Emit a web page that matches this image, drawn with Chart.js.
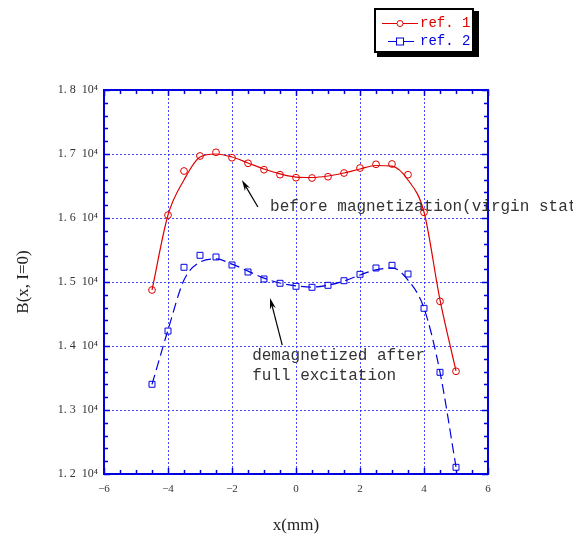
<!DOCTYPE html>
<html>
<head>
<meta charset="utf-8">
<script src="https://cdn.jsdelivr.net/npm/chart.js@4.4.0/dist/chart.umd.min.js"></script>
<style>
  html, body { margin: 0; padding: 0; background: #fff; }
</style>
</head>
<body>
<canvas id="chart" width="573" height="540"></canvas>
<script>
// x positions (mm)
const xPositions = [-4.5, -4, -3.5, -3, -2.5, -2, -1.5, -1, -0.5, 0, 0.5, 1, 1.5, 2, 2.5, 3, 3.5, 4, 4.5, 5];

// measured points
const ref1Values = [14875, 16045, 16734, 16969, 17027, 16942, 16855, 16755, 16677, 16630, 16625, 16645, 16703, 16781, 16839, 16844, 16677, 16089, 14698, 13605];
const ref2Values = [13402, 14234, 15230, 15417, 15391, 15266, 15156, 15047, 14980, 14933, 14917, 14948, 15020, 15120, 15219, 15261, 15125, 14589, 13589, 12105];

// smoothed curves as they appear in the picture
const ref1Curve = [14875, 16047, 16594, 16953, 17000, 16953, 16860, 16766, 16690, 16640, 16633, 16656, 16703, 16766, 16820, 16810, 16594, 16094, 14720, 13610];
const ref2Curve = [13400, 14250, 15030, 15310, 15360, 15280, 15170, 15060, 14985, 14940, 14920, 14950, 15015, 15110, 15190, 15220, 15030, 14590, 13590, 12110];

const xTicks = [-6, -4, -2, 0, 2, 4, 6];
const yTicks = [12000, 13000, 14000, 15000, 16000, 17000, 18000];

const legendLabels = ['ref. 1', 'ref. 2'];
const note1 = ['before magnetization(virgin state)'];
const note2 = ['demagnetized after', 'full excitation'];

const RED = '#e00000';
const BLUE = '#0000e0';

function toXY(ys) {
    return xPositions.map((x, i) => ({ x: x, y: ys[i] }));
}

function arrow(ctx, x1, y1, x2, y2) {
    // line from (x1,y1) to tip (x2,y2)
    const ang = Math.atan2(y2 - y1, x2 - x1);
    const len = 11, half = 3;
    ctx.save();
    ctx.strokeStyle = '#000';
    ctx.fillStyle = '#000';
    ctx.lineWidth = 1.2;
    ctx.beginPath();
    ctx.moveTo(x1, y1);
    ctx.lineTo(x2 - Math.cos(ang) * len * 0.6, y2 - Math.sin(ang) * len * 0.6);
    ctx.stroke();
    ctx.beginPath();
    ctx.moveTo(x2, y2);
    ctx.lineTo(x2 - Math.cos(ang) * len - Math.sin(ang) * half, y2 - Math.sin(ang) * len + Math.cos(ang) * half);
    ctx.lineTo(x2 - Math.cos(ang) * len * 0.7, y2 - Math.sin(ang) * len * 0.7);
    ctx.lineTo(x2 - Math.cos(ang) * len + Math.sin(ang) * half, y2 - Math.sin(ang) * len - Math.cos(ang) * half);
    ctx.closePath();
    ctx.fill();
    ctx.restore();
}

// frame, inward ticks on all sides, legend box and the notes
const extrasPlugin = {
    id: 'extras',
    afterDraw(chart) {
        const ctx = chart.ctx;
        const xs = chart.scales.x, ys = chart.scales.y;
        const { left, right, top, bottom } = chart.chartArea;

        ctx.save();
        ctx.strokeStyle = BLUE;
        ctx.lineWidth = 1.5;
        // x ticks every 0.5
        for (let v = -6; v <= 6.001; v += 0.5) {
            const px = Math.round(xs.getPixelForValue(v)) + 0.5;
            const major = Math.abs(v % 2) < 0.001;
            const l = major ? 6 : 4;
            ctx.beginPath();
            ctx.moveTo(px, bottom); ctx.lineTo(px, bottom - l);
            ctx.moveTo(px, top); ctx.lineTo(px, top + l);
            ctx.stroke();
        }
        // y ticks every 200
        for (let v = 12000; v <= 18000; v += 200) {
            const py = Math.round(ys.getPixelForValue(v)) + 0.5;
            const major = v % 1000 === 0;
            const l = major ? 6 : 4;
            ctx.beginPath();
            ctx.moveTo(left, py); ctx.lineTo(left + l, py);
            ctx.moveTo(right, py); ctx.lineTo(right - l, py);
            ctx.stroke();
        }
        ctx.lineWidth = 2;
        ctx.strokeRect(left, top, right - left, bottom - top);
        ctx.restore();

        // legend
        ctx.save();
        ctx.fillStyle = '#000';
        ctx.fillRect(377, 11, 102, 46);
        ctx.fillStyle = '#fff';
        ctx.fillRect(374, 8, 100, 45);
        ctx.strokeStyle = '#000';
        ctx.lineWidth = 2;
        ctx.strokeRect(375, 9, 98, 43);

        ctx.font = '14px "Liberation Mono", monospace';
        ctx.textBaseline = 'middle';
        // ref. 1
        ctx.strokeStyle = RED;
        ctx.lineWidth = 1;
        ctx.beginPath(); ctx.moveTo(382, 23.5); ctx.lineTo(418, 23.5); ctx.stroke();
        ctx.fillStyle = '#fff';
        ctx.beginPath(); ctx.arc(400, 23.5, 3, 0, Math.PI * 2); ctx.fill(); ctx.stroke();
        ctx.fillStyle = RED;
        ctx.fillText(legendLabels[0], 420, 23.5);
        // ref. 2
        ctx.strokeStyle = BLUE;
        ctx.setLineDash([10, 4]);
        ctx.beginPath(); ctx.moveTo(390, 41.5); ctx.lineTo(418, 41.5); ctx.stroke();
        ctx.setLineDash([]);
        ctx.beginPath(); ctx.moveTo(388, 41.5); ctx.lineTo(391, 41.5); ctx.stroke();
        ctx.fillStyle = '#fff';
        ctx.fillRect(396.5, 38, 7, 7);
        ctx.strokeRect(396.5, 38, 7, 7);
        ctx.fillStyle = BLUE;
        ctx.fillText(legendLabels[1], 420, 41.5);
        ctx.restore();

        // notes with arrows
        ctx.save();
        ctx.font = '16px "Liberation Mono", monospace';
        ctx.fillStyle = '#333';
        ctx.textBaseline = 'middle';
        ctx.fillText(note1[0], xs.getPixelForValue(-0.81), ys.getPixelForValue(16172));
        note2.forEach((t, i) => {
            ctx.fillText(t, xs.getPixelForValue(-1.37), ys.getPixelForValue(13844 - i * 312));
        });
        arrow(ctx, xs.getPixelForValue(-1.19), ys.getPixelForValue(16172),
                   xs.getPixelForValue(-1.69), ys.getPixelForValue(16594));
        arrow(ctx, xs.getPixelForValue(-0.43), ys.getPixelForValue(14014),
                   xs.getPixelForValue(-0.81), ys.getPixelForValue(14750));
        ctx.restore();
    }
};

const ctx = document.getElementById('chart').getContext('2d');

new Chart(ctx, {
    type: 'scatter',
    data: {
        datasets: [
            {
                label: 'ref. 1 curve',
                data: toXY(ref1Curve),
                showLine: true,
                borderColor: RED,
                borderWidth: 1.2,
                pointRadius: 0,
                cubicInterpolationMode: 'monotone'
            },
            {
                label: 'ref. 2 curve',
                data: toXY(ref2Curve),
                showLine: true,
                borderColor: BLUE,
                borderWidth: 1.2,
                borderDash: [10, 5],
                pointRadius: 0,
                cubicInterpolationMode: 'monotone'
            },
            {
                label: legendLabels[0],
                data: toXY(ref1Values),
                showLine: false,
                pointStyle: 'circle',
                pointRadius: 3.4,
                borderWidth: 1,
                borderColor: RED,
                backgroundColor: '#fff'
            },
            {
                label: legendLabels[1],
                data: toXY(ref2Values),
                showLine: false,
                pointStyle: 'rect',
                pointRadius: 4.2,
                borderWidth: 1,
                borderColor: BLUE,
                backgroundColor: '#fff'
            }
        ]
    },
    options: {
        responsive: false,
        animation: false,
        layout: { padding: { top: 90, right: 85, left: 0, bottom: 0 } },
        plugins: {
            legend: { display: false },
            tooltip: { enabled: false }
        },
        scales: {
            x: {
                type: 'linear',
                min: -6, max: 6,
                afterFit: s => { s.height = 66; },
                afterBuildTicks: s => { s.ticks = xTicks.map(v => ({ value: v })); },
                ticks: {
                    padding: 9,
                    color: '#333',
                    font: { family: '"Liberation Serif", serif', size: 11 },
                    callback: v => (v < 0 ? '\u2212' + Math.abs(v) : String(v))
                },
                grid: { color: 'rgba(40,40,255,0.85)', lineWidth: 1, drawTicks: false },
                border: { display: false, dash: [2, 2] },
                title: {
                    display: true,
                    text: 'x(mm)',
                    color: '#222',
                    font: { family: '"Liberation Serif", serif', size: 17 },
                    padding: { top: 0, bottom: 4 }
                }
            },
            y: {
                type: 'linear',
                min: 12000, max: 18000,
                afterFit: s => { s.width = 104; },
                afterBuildTicks: s => { s.ticks = yTicks.map(v => ({ value: v })); },
                ticks: {
                    padding: 6,
                    color: '#333',
                    font: { family: '"Liberation Serif", serif', size: 12 },
                    callback: v => (v / 10000).toFixed(1).replace('.', '. ') + '  10\u2074'
                },
                grid: { color: 'rgba(40,40,255,0.85)', lineWidth: 1, drawTicks: false },
                border: { display: false, dash: [2, 2] },
                title: {
                    display: true,
                    text: 'B(x, I=0)',
                    color: '#222',
                    font: { family: '"Liberation Serif", serif', size: 17 },
                    padding: { top: 13, bottom: 0 }
                }
            }
        }
    },
    plugins: [extrasPlugin]
});
</script>
</body>
</html>
